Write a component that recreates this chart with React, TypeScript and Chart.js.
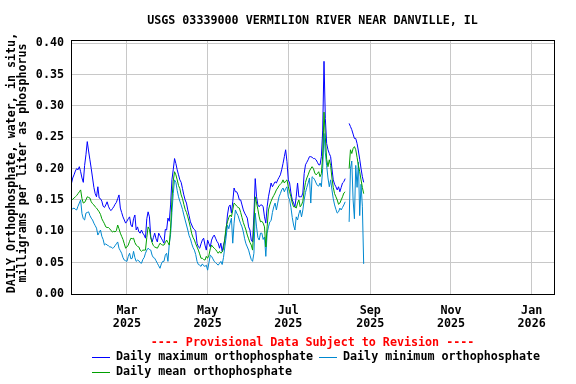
import React, { useEffect, useRef } from 'react';
import { Chart, registerables } from 'chart.js';

Chart.register(...registerables);

const TITLE = 'USGS 03339000 VERMILION RIVER NEAR DANVILLE, IL';
const Y_TITLE = ['DAILY Orthophosphate, water, in situ,', 'milligrams per liter as phosphorus'];
const PROVISIONAL = '---- Provisional Data Subject to Revision ----';
const LEGEND_MAX = 'Daily maximum orthophosphate';
const LEGEND_MIN = 'Daily minimum orthophosphate';
const LEGEND_MEAN = 'Daily mean orthophosphate';

// x values are days since 2025-01-01 (Jan 1 = 0); data is daily starting at FIRST_DAY
const FIRST_DAY = 17;
const X_MIN = 16.7;
const X_MAX = 381.9;
const TICK_DAYS = [59, 120, 181, 243, 304, 365];
const TICK_LABELS = [
  ['Mar', '2025'],
  ['May', '2025'],
  ['Jul', '2025'],
  ['Sep', '2025'],
  ['Nov', '2025'],
  ['Jan', '2026'],
];
const Y_MAX = 0.405;
const Y_STEP = 0.05;

const maxVals = [
  0.176, 0.185, 0.19, 0.196, 0.2, 0.198, 0.203, 0.195, 0.185, 0.178,
  0.205, 0.222, 0.243, 0.228, 0.214, 0.2, 0.185, 0.17, 0.16, 0.155,
  0.171, 0.153, 0.152, 0.148, 0.14, 0.138, 0.142, 0.147, 0.14, 0.135,
  0.133, 0.136, 0.139, 0.143, 0.146, 0.152, 0.158, 0.137, 0.13, 0.123,
  0.118, 0.113, 0.116, 0.12, 0.123, 0.11, 0.107, 0.12, 0.126, 0.102,
  0.107, 0.099, 0.097, 0.102, 0.097, 0.094, 0.089, 0.12, 0.131, 0.123,
  0.091, 0.083, 0.09, 0.097, 0.088, 0.083, 0.097, 0.093, 0.089, 0.085,
  0.081, 0.103, 0.102, 0.121, 0.116, 0.142, 0.182, 0.198, 0.216, 0.208,
  0.198, 0.19, 0.182, 0.178, 0.168, 0.158, 0.15, 0.145, 0.134, 0.125,
  0.115, 0.11, 0.105, 0.103, 0.1, 0.081, 0.075, 0.073, 0.08, 0.086,
  0.089, 0.078, 0.07, 0.086, 0.08, 0.075, 0.086, 0.091, 0.094, 0.089,
  0.084, 0.081, 0.073, 0.081, 0.068, 0.078, 0.086, 0.102, 0.126, 0.139,
  0.142, 0.129, 0.147, 0.169, 0.163, 0.163, 0.158, 0.15, 0.15, 0.142,
  0.134, 0.129, 0.125, 0.121, 0.107, 0.102, 0.086, 0.083, 0.126, 0.184,
  0.155, 0.142, 0.139, 0.142, 0.142, 0.139, 0.123, 0.113, 0.139, 0.155,
  0.166, 0.177, 0.171, 0.175, 0.179, 0.177, 0.182, 0.186, 0.19, 0.198,
  0.208, 0.219, 0.23, 0.211, 0.182, 0.177, 0.161, 0.15, 0.145, 0.139,
  0.155, 0.177, 0.155, 0.155, 0.155, 0.161, 0.192, 0.206, 0.21, 0.214,
  0.219, 0.219, 0.218, 0.216, 0.216, 0.214, 0.21, 0.206, 0.206, 0.219,
  0.26, 0.371, 0.28, 0.24, 0.23, 0.224, 0.219, 0.2, 0.182, 0.175,
  0.171, 0.166, 0.171, 0.163, 0.17, 0.177, 0.179, 0.184, null, null,
  0.272, 0.267, 0.262, 0.255, 0.248, 0.248, 0.24, 0.228, 0.215, 0.2,
  0.187, 0.178,
];

const meanVals = [
  0.15, 0.151, 0.153, 0.155, 0.157, 0.16, 0.163, 0.166, 0.152, 0.145,
  0.146, 0.15, 0.155, 0.154, 0.153, 0.147, 0.144, 0.142, 0.139, 0.137,
  0.134, 0.131, 0.127, 0.12, 0.116, 0.112, 0.107, 0.106, 0.106, 0.104,
  0.101, 0.099, 0.1, 0.099, 0.101, 0.11, 0.104, 0.097, 0.092, 0.087,
  0.08, 0.073, 0.075, 0.078, 0.084, 0.089, 0.088, 0.089, 0.082, 0.078,
  0.076, 0.075, 0.07, 0.068, 0.07, 0.07, 0.07, 0.09, 0.107, 0.103,
  0.09, 0.082, 0.077, 0.075, 0.074, 0.073, 0.077, 0.081, 0.079, 0.078,
  0.078, 0.082, 0.086, 0.082, 0.078, 0.105, 0.15, 0.18, 0.195, 0.19,
  0.182, 0.173, 0.168, 0.158, 0.152, 0.143, 0.135, 0.13, 0.123, 0.115,
  0.106, 0.096, 0.09, 0.086, 0.08, 0.075, 0.07, 0.064, 0.057, 0.057,
  0.055, 0.054, 0.06, 0.057, 0.062, 0.072, 0.078, 0.075, 0.073, 0.071,
  0.068, 0.065, 0.068, 0.065, 0.067, 0.072, 0.089, 0.107, 0.115, 0.122,
  0.126, 0.123, 0.134, 0.145, 0.143, 0.14, 0.138, 0.137, 0.13, 0.122,
  0.114, 0.108, 0.102, 0.094, 0.088, 0.082, 0.078, 0.07, 0.11, 0.155,
  0.145, 0.135, 0.123, 0.115, 0.116, 0.113, 0.107, 0.075, 0.107, 0.134,
  0.142, 0.148, 0.153, 0.157, 0.161, 0.166, 0.169, 0.173, 0.175, 0.177,
  0.182, 0.177, 0.18, 0.182, 0.171, 0.163, 0.155, 0.145, 0.139, 0.139,
  0.137, 0.145, 0.15, 0.139, 0.142, 0.148, 0.165, 0.178, 0.185, 0.19,
  0.196, 0.2, 0.203, 0.2, 0.193, 0.19, 0.192, 0.195, 0.187, 0.192,
  0.22, 0.29, 0.25, 0.215, 0.203, 0.214, 0.205, 0.185, 0.17, 0.16,
  0.155, 0.15, 0.143, 0.145, 0.15, 0.155, 0.161, 0.163, null, null,
  0.2, 0.23, 0.224, 0.232, 0.235, 0.23, 0.218, 0.205, 0.195, 0.182,
  0.17, 0.16,
];

const minVals = [
  0.135, 0.136, 0.137, 0.135, 0.134, 0.14, 0.145, 0.15, 0.128, 0.12,
  0.118, 0.129, 0.13, 0.131, 0.125, 0.121, 0.118, 0.113, 0.109, 0.105,
  0.094, 0.098, 0.102, 0.092, 0.087, 0.078, 0.08, 0.078, 0.077, 0.075,
  0.075, 0.073, 0.074, 0.077, 0.08, 0.083, 0.073, 0.069, 0.065, 0.058,
  0.054, 0.053, 0.052, 0.06, 0.065, 0.056, 0.057, 0.068, 0.058, 0.052,
  0.054, 0.053, 0.05, 0.049, 0.055, 0.058, 0.065, 0.07, 0.073, 0.071,
  0.07, 0.062, 0.058, 0.057, 0.053, 0.049, 0.045, 0.041, 0.048, 0.052,
  0.052, 0.062, 0.065, 0.052, 0.08, 0.095, 0.13, 0.16, 0.182, 0.178,
  0.165, 0.155, 0.148, 0.142, 0.135, 0.126, 0.118, 0.11, 0.102, 0.093,
  0.088, 0.08, 0.074, 0.07, 0.063, 0.052, 0.047, 0.046, 0.044, 0.048,
  0.045, 0.044, 0.046, 0.038, 0.05, 0.062, 0.06, 0.056, 0.052, 0.05,
  0.048, 0.046, 0.049, 0.052, 0.047, 0.058, 0.075, 0.091, 0.11, 0.104,
  0.113, 0.121, 0.081, 0.113, 0.134, 0.129, 0.125, 0.118, 0.112, 0.107,
  0.099, 0.088, 0.08, 0.075, 0.07, 0.062, 0.055, 0.052, 0.065, 0.129,
  0.107, 0.09, 0.086, 0.097, 0.097, 0.087, 0.091, 0.06, 0.097, 0.107,
  0.115, 0.117, 0.13, 0.139, 0.145, 0.134, 0.145, 0.155, 0.16, 0.166,
  0.169, 0.163, 0.168, 0.171, 0.155, 0.15, 0.138, 0.122, 0.11, 0.102,
  0.123, 0.118, 0.128, 0.134, 0.123, 0.134, 0.15, 0.162, 0.17, 0.177,
  0.185, 0.145, 0.187, 0.185, 0.182, 0.177, 0.173, 0.172, 0.177, 0.171,
  0.2, 0.256, 0.225, 0.205, 0.185, 0.171, 0.182, 0.166, 0.152, 0.142,
  0.135, 0.129, 0.131, 0.137, 0.134, 0.138, 0.142, 0.147, null, null,
  0.115, 0.2, 0.212, 0.15, 0.12, 0.205, 0.17, 0.21, 0.125, 0.175,
  0.14, 0.048,
];

const COLOR_MAX = '#0000ff';
const COLOR_MIN = '#0088d0';
const COLOR_MEAN = '#00a000';
const GRID = '#c8c8c8';
const FONT_FAMILY = '"DejaVu Sans Mono", "Liberation Mono", monospace';
const FONT_SIZE = 11.7;

const toPoints = (vals: (number | null)[]) =>
  vals.map((v, i) => ({ x: FIRST_DAY + i, y: v }));

const decorPlugin = {
  id: 'decor',
  afterDraw(chart: any) {
    const { ctx, chartArea: a } = chart;
    ctx.save();
    // plot frame
    ctx.strokeStyle = '#000';
    ctx.lineWidth = 1;
    ctx.strokeRect(Math.round(a.left) + 0.5, Math.round(a.top) + 0.5,
      Math.round(a.right - a.left), Math.round(a.bottom - a.top));

    const font = `bold ${FONT_SIZE}px ${FONT_FAMILY}`;
    ctx.font = font;
    ctx.fillStyle = '#000';
    ctx.textBaseline = 'middle';
    ctx.textAlign = 'center';
    const cx = (a.left + a.right) / 2;
    ctx.fillText(TITLE, cx, 20.7);

    // y-axis title (rotated)
    ctx.save();
    ctx.translate(11.7, 163);
    ctx.rotate(-Math.PI / 2);
    ctx.fillText(Y_TITLE[0], 0, 0);
    ctx.restore();
    ctx.save();
    ctx.translate(23.3, 163);
    ctx.rotate(-Math.PI / 2);
    ctx.fillText(Y_TITLE[1], 0, 0);
    ctx.restore();

    // provisional notice
    ctx.fillStyle = '#ff0000';
    ctx.fillText(PROVISIONAL, cx, 342.7);

    // legend
    const items = [
      { label: LEGEND_MAX, color: COLOR_MAX, x0: 92, y: 357 },
      { label: LEGEND_MIN, color: COLOR_MIN, x0: 319, y: 357 },
      { label: LEGEND_MEAN, color: COLOR_MEAN, x0: 92, y: 372.3 },
    ];
    ctx.textAlign = 'left';
    for (const it of items) {
      ctx.strokeStyle = it.color;
      ctx.lineWidth = 1;
      ctx.beginPath();
      ctx.moveTo(it.x0, Math.round(it.y) + 0.5);
      ctx.lineTo(it.x0 + 18, Math.round(it.y) + 0.5);
      ctx.stroke();
      ctx.fillStyle = '#000';
      ctx.fillText(it.label, it.x0 + 24, it.y);
    }
    ctx.restore();
  },
};

export default function App() {
  const ref = useRef<HTMLCanvasElement>(null);

  useEffect(() => {
    document.body.style.margin = '0';
    const canvas = ref.current;
    if (!canvas) return;
    const tickFont = { family: FONT_FAMILY, size: FONT_SIZE, weight: 'bold' as const, lineHeight: 13 / FONT_SIZE };
    const chart = new Chart(canvas, {
      type: 'line',
      data: {
        datasets: [
          { label: LEGEND_MEAN, data: toPoints(meanVals), borderColor: COLOR_MEAN, borderWidth: 1, pointRadius: 0, tension: 0, spanGaps: false },
          { label: LEGEND_MIN, data: toPoints(minVals), borderColor: COLOR_MIN, borderWidth: 1, pointRadius: 0, tension: 0, spanGaps: false },
          { label: LEGEND_MAX, data: toPoints(maxVals), borderColor: COLOR_MAX, borderWidth: 1, pointRadius: 0, tension: 0, spanGaps: false },
        ],
      },
      options: {
        animation: false,
        responsive: false,
        devicePixelRatio: 1,
        events: [],
        layout: { padding: { left: 0, right: 22, top: 40, bottom: 0 } },
        plugins: {
          legend: { display: false },
          title: { display: false },
          tooltip: { enabled: false },
        },
        scales: {
          x: {
            type: 'linear',
            min: X_MIN,
            max: X_MAX,
            bounds: 'data',
            afterBuildTicks: (scale: any) => {
              scale.ticks = TICK_DAYS.map((v) => ({ value: v }));
            },
            afterFit: (scale: any) => {
              scale.height = 90;
            },
            grid: { color: GRID, lineWidth: 1, drawTicks: false },
            border: { display: false },
            ticks: {
              autoSkip: false,
              maxRotation: 0,
              minRotation: 0,
              padding: 10.5,
              color: '#000',
              font: tickFont,
              callback: (value: any) => {
                const i = TICK_DAYS.indexOf(Number(value));
                return i >= 0 ? TICK_LABELS[i] : '';
              },
            },
          },
          y: {
            type: 'linear',
            min: 0,
            max: Y_MAX,
            afterFit: (scale: any) => {
              scale.width = 71;
            },
            grid: { color: GRID, lineWidth: 1, drawTicks: false },
            border: { display: false },
            ticks: {
              stepSize: Y_STEP,
              includeBounds: false,
              padding: 7,
              color: '#000',
              font: tickFont,
              callback: (value: any) => Number(value).toFixed(2),
            },
          },
        },
      },
      plugins: [decorPlugin],
    });
    return () => chart.destroy();
  }, []);

  return (
    <div style={{ width: 576, height: 384 }}>
      <canvas ref={ref} width={576} height={384} style={{ display: 'block' }} />
    </div>
  );
}
